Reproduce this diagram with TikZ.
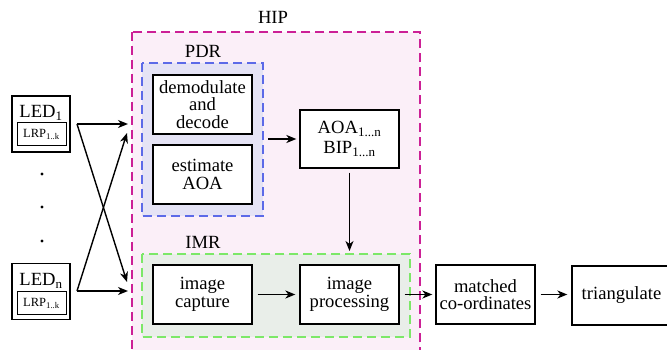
\documentclass[tikz,border=0pt]{standalone}
\usepackage{fontspec}
\setmainfont{Liberation Serif}
\usetikzlibrary{arrows.meta}
\definecolor{hipline}{RGB}{204,32,150}
\definecolor{hipfill}{RGB}{251,239,248}
\definecolor{pdrline}{RGB}{92,106,232}
\definecolor{pdrfill}{RGB}{229,227,245}
\definecolor{imrline}{RGB}{124,232,104}
\definecolor{imrfill}{RGB}{233,238,233}
\newcommand{\sbs}[1]{\textsubscript{#1}}
\tikzset{
  blk/.style={draw=black, line width=1.3pt, fill=white, minimum width=99pt, minimum height=59pt,
    align=center, inner sep=1pt, font=\fontsize{18.6}{17.5}\selectfont},
  grp/.style={line width=2pt, dash pattern=on 9pt off 5pt},
  lbl/.style={font=\fontsize{18.6}{20}\selectfont, inner sep=0pt},
  arr/.style={line width=1.4pt, -{Stealth[length=10pt,width=8pt,inset=3pt]}},
  ledbox/.style={draw=black, line width=1.3pt, fill=white, minimum width=58pt, minimum height=56pt, inner sep=0pt},
  lrpbox/.style={draw=black, line width=1pt, minimum width=49pt, minimum height=23pt, inner sep=0pt,
    font=\fontsize{12.5}{12.5}\selectfont}
}
\begin{document}
\begin{tikzpicture}[x=1pt,y=-1pt]
\useasboundingbox (0,0) rectangle (667,350);
\begin{scope}
\clip (0,0) rectangle (667,350);

% group frames
\draw[grp, draw=hipline, fill=hipfill] (132,32) rectangle (420,365);
\node[lbl] (hiplbl) at (273,17) {HIP};
\draw[grp, draw=pdrline, fill=pdrfill] (142,63) rectangle (263,216);
\node[lbl] (pdrlbl) at (203,51) {PDR};
\coordinate (pdrE) at (263,139);
\draw[grp, draw=imrline, fill=imrfill] (142,254) rectangle (410,337);
\node[lbl] (imrlbl) at (203,242) {IMR};
\coordinate (imrN) at (349.5,254);

% processing blocks
\node[blk] (demod) at (202.5,104.5) {demodulate\\and\\decode};
\node[blk] (est) at (202.5,174.5) {estimate\\AOA};
\node[blk, minimum height=58pt] (aoa) at (349.5,139) {AOA\sbs{1...n}\\[3pt]BIP\sbs{1...n}};
\node[blk] (cap) at (202.5,294.5) {image\\capture};
\node[blk] (proc) at (349.5,294.5) {image\\processing};
\node[blk] (match) at (485.5,294.5) {matched\\co-ordinates};
\node[blk] (tri) at (621.5,295.5) {triangulate};

% light sources
\node[ledbox] (led1) at (41,124) {};
\node[lbl, anchor=base] (led1t) at (41,118) {LED\sbs{1}};
\node[lrpbox] (lrp1) at (41.5,134.5) {LRP\sbs{1..k}};
\node[ledbox] (ledn) at (41,291.5) {};
\node[lbl, anchor=base] (lednt) at (41,285.5) {LED\sbs{n}};
\node[lrpbox] (lrpn) at (41.5,303) {LRP\sbs{1..k}};
\foreach \y in {174,207,241}
  \fill (42,\y) circle (1.6pt);

% connectors
\coordinate (s1) at (77,124);
\coordinate (sn) at (77,291);
\coordinate (t1) at (128,124);
\coordinate (t1b) at (127,133);
\coordinate (tn) at (128,291);
\coordinate (tnb) at (127,282);
\draw[arr] (s1) -- (t1);
\draw[arr] (s1) -- (tnb);
\draw[arr] (sn) -- (tn);
\draw[arr] (sn) -- (t1b);

\draw[arr, shorten <=5pt, shorten >=3pt] (pdrE) -- (aoa.west);
\draw[arr, shorten <=4pt, shorten >=3pt] (aoa.south) -- (imrN);
\draw[arr, shorten <=5pt, shorten >=4pt] (cap.east) -- (proc.west);
\draw[arr, shorten <=5pt, shorten >=3pt] (proc.east) -- (match.west);
\draw[arr, shorten <=5pt, shorten >=4pt] (match.east) -- (tri.west |- match.east);
\end{scope}
\end{tikzpicture}
\end{document}
